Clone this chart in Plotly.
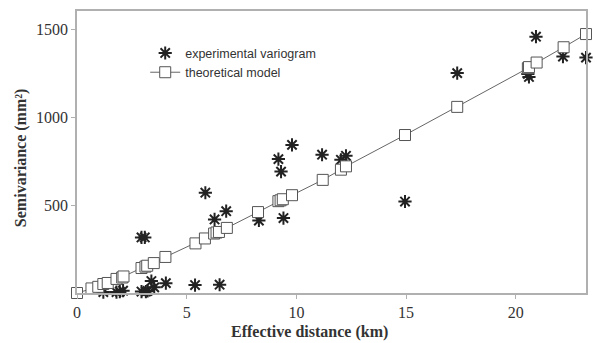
import plotly.graph_objects as go

# Theoretical model (squares)
model_x = [0, 0.66, 0.97, 1.2, 1.4, 1.8, 2.06, 2.12, 2.94, 3.12, 3.2, 3.5, 4.03, 5.4,
           5.83, 6.25, 6.36, 6.47, 6.83, 8.25, 9.18, 9.28, 9.38, 9.8, 11.2, 12.03,
           12.26, 14.95, 17.33, 20.55, 20.6, 20.95, 22.18, 23.2]
model_y = [0, 26, 35, 51, 57, 80, 88, 94, 142, 150, 155, 170, 205, 282,
           310, 338, 344, 347, 370, 460, 522, 527, 533, 556, 643, 701,
           720, 898, 1058, 1278, 1284, 1310, 1397, 1472]

# Experimental variogram (asterisks)
exp_x = [1.2, 1.8, 1.95, 2.1, 2.94, 3.09, 2.94, 3.14, 3.22, 3.39, 3.52, 4.05, 5.38,
         5.85, 6.27, 6.5, 6.8, 8.29, 9.18, 9.3, 9.41, 9.8, 11.17, 12.03, 12.26,
         14.95, 17.33, 20.55, 20.6, 20.92, 22.15, 23.2]
exp_y = [5, 5, 8, 13, 316, 316, 8, 8, 12, 68, 32, 56, 45,
         570, 418, 47, 465, 412, 761, 690, 426, 842, 786, 757, 780,
         520, 1250, 1245, 1228, 1457, 1344, 1338]

x_ticks = [0, 5, 10, 15, 20]
y_ticks = [500, 1000, 1500]

fig = go.Figure()
fig.add_trace(go.Scatter(
    x=exp_x, y=exp_y, mode="markers", name="experimental variogram",
    marker=dict(symbol="asterisk", size=11, color="#222",
                line=dict(color="#222", width=2)),
    cliponaxis=False,
))
fig.add_trace(go.Scatter(
    x=model_x, y=model_y, mode="lines+markers", name="theoretical model",
    line=dict(color="#666", width=1),
    marker=dict(symbol="square", size=11, color="white",
                line=dict(color="#555", width=1)),
    cliponaxis=False,
))

axis_common = dict(
    showgrid=False, zeroline=False, showline=True, linecolor="#b0b0b0",
    linewidth=1.5, mirror=True, ticks="outside", ticklen=4, tickcolor="#b0b0b0",
    tickfont=dict(family="Liberation Serif", size=16, color="#333"),
)
fig.update_xaxes(range=[0, 23.2], tickvals=x_ticks, **axis_common)
fig.update_yaxes(range=[0, 1603], tickvals=y_ticks, **axis_common)

title_font = dict(family="Liberation Serif", size=16, color="#333")
fig.add_annotation(text="<b>Effective distance (km)</b>", xref="paper", yref="paper",
                   x=0.456, y=-0.137, xanchor="center", yanchor="middle",
                   showarrow=False, font=title_font)
fig.add_annotation(text="<b>Semivariance (mm²)</b>", xref="paper", yref="paper",
                   x=-0.1096, y=0.479, xanchor="center", yanchor="middle",
                   textangle=-90, showarrow=False, font=title_font)

fig.update_layout(
    width=597, height=343,
    margin=dict(l=77, r=9, t=9, b=50),
    plot_bgcolor="white", paper_bgcolor="white",
    legend=dict(x=0.134, y=0.903, xanchor="left", yanchor="top",
                bgcolor="rgba(0,0,0,0)", itemwidth=30, tracegroupgap=0,
                font=dict(family="Liberation Sans", size=12.5, color="#333")),
)
fig.write_html("out.html")
